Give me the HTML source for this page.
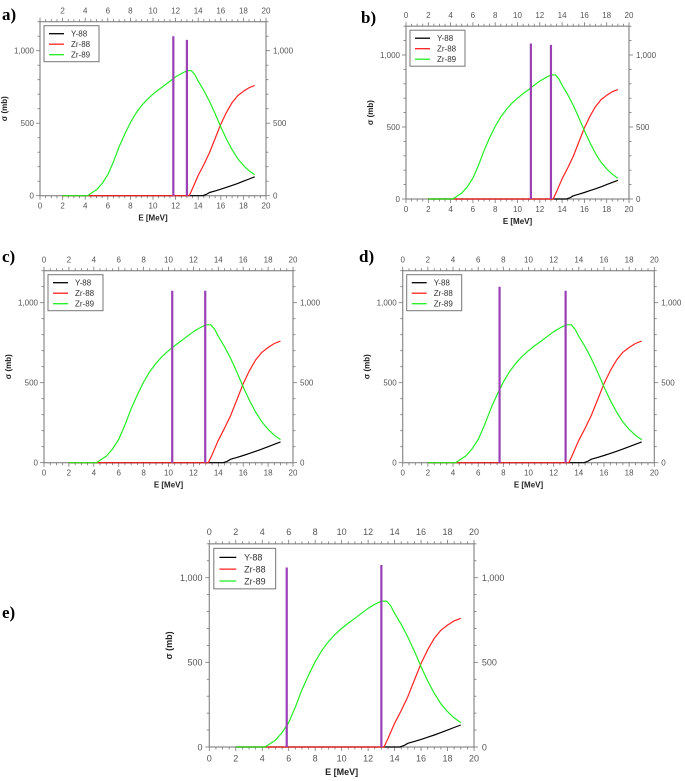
<!DOCTYPE html>
<html><head><meta charset="utf-8">
<style>
body{margin:0;background:#fff;}
svg{display:block;font-family:"Liberation Sans","DejaVu Sans",sans-serif;}
</style></head>
<body>
<svg id="fig" width="685" height="781" viewBox="0 0 685 781" xmlns="http://www.w3.org/2000/svg"></svg>
<script>
// ---- data ----
const zr89E = [2, 4.2, 4.5, 5, 5.5, 6, 6.5, 7, 7.5, 8, 8.5, 9, 9.5, 10, 10.5, 11, 11.5, 12, 12.5, 13, 13.4, 13.7, 14, 14.5, 15, 15.5, 16, 16.5, 17, 17.5, 18, 18.5, 19];
const zr89S = [0, 0, 15, 41, 85, 145, 235, 337, 425, 504, 570, 622, 665, 700, 732, 760, 790, 819, 842, 862, 862, 835, 790, 725, 650, 565, 474, 390, 317, 255, 209, 172, 144];
const zr88E = [2, 13.2, 13.5, 14, 14.5, 15, 15.5, 16, 16.5, 17, 17.5, 18, 18.5, 19];
const zr88S = [0, 0, 50, 140, 215, 297, 395, 494, 575, 642, 690, 720, 745, 760];
const y88E = [2, 14.4, 14.7, 15, 15.5, 16, 16.5, 17, 17.5, 18, 18.5, 19];
const y88S = [0, 0, 8, 22, 33, 45, 58, 71, 85, 100, 115, 130];
const xTickLabels = [0, 2, 4, 6, 8, 10, 12, 14, 16, 18, 20];
const yTickLabels = [0, 500, 1000];
const panelNames = ["a)", "b)", "c)", "d)", "e)"];
const markerE = [[11.8, 13.0], [11.2, 13.0], [10.3, 12.95], [7.7, 12.95], [5.85, 13.0]];
const markerTop = [[1100, 1075], [1080, 1070], [1075, 1075], [1100, 1075], [1060, 1075]];

// ---- layout (pixels) ----
const geoms = [
  {x0:40, x1:266, y0:195.7, y1000:50.7, fs:8, lab:[2,20], topFirst:2},
  {x0:406, x1:629, y0:199, y1000:55, fs:8, lab:[361,23], topFirst:0},
  {x0:44, x1:293, y0:462.7, y1000:302.7, fs:8, lab:[2,262], topFirst:0},
  {x0:402.7, x1:654.3, y0:462.7, y1000:302.7, fs:8, lab:[359,262], topFirst:0},
  {x0:209.3, x1:474, y0:747, y1000:577.7, fs:9, lab:[2,618], topFirst:0}
];
const NS = "http://www.w3.org/2000/svg";
const svg = document.getElementById("fig");
function mk(tag, attrs, parent){
  const e = document.createElementNS(NS, tag);
  for (const k in attrs) e.setAttribute(k, attrs[k]);
  (parent||svg).appendChild(e);
  return e;
}
function fmt(v){ return v >= 1000 ? v.toString().replace(/\B(?=(\d{3})+(?!\d))/g, ",") : String(v); }

geoms.forEach((g, i) => {
  const grp = mk("g", {});
  
  
  const sx = (g.x1 - g.x0) / 20;
  const sy = (g.y0 - g.y1000) / 1000;
  const X = e => g.x0 + e * sx;
  const Y = s => g.y0 - s * sy;
  const top = Y(1200);
  const fs = g.fs;
  const k = fs / 8;
  const fr = mk("rect", {x:g.x0, y:top, width:g.x1-g.x0, height:g.y0-top, fill:"none", stroke:"#8a8a8a", "stroke-width":1.2}, grp);
  
  
  for (let t = 0; t <= 20; t += 0.5) {
    const major = (t % 2 === 0);
    const len = major ? 4 : 2.5;
    mk("line", {x1:X(t), x2:X(t), y1:g.y0, y2:g.y0+len, stroke:"#777", "stroke-width":0.8}, grp);
    mk("line", {x1:X(t), x2:X(t), y1:top, y2:top-len, stroke:"#777", "stroke-width":0.8}, grp);
  }
  xTickLabels.forEach(v => {
    const b = mk("text", {x:X(v), y:g.y0+13*k, "font-size":fs, fill:"#555", "text-anchor":"middle"}, grp);
    b.textContent = v;
    
    
    if (v >= g.topFirst) {
      const tt = mk("text", {x:X(v), y:top-8*k, "font-size":fs, fill:"#555", "text-anchor":"middle"}, grp);
      tt.textContent = v;
      
      
    }
  });
  for (let s = 0; s <= 1200; s += 100) {
    const major = (s % 500 === 0);
    const len = major ? 4 : 2.5;
    mk("line", {x1:g.x0, x2:g.x0-len, y1:Y(s), y2:Y(s), stroke:"#777", "stroke-width":0.8}, grp);
    mk("line", {x1:g.x1, x2:g.x1+len, y1:Y(s), y2:Y(s), stroke:"#777", "stroke-width":0.8}, grp);
  }
  yTickLabels.forEach(v => {
    const l = mk("text", {x:g.x0-6*k, y:Y(v)+3*k, "font-size":fs, fill:"#555", "text-anchor":"end"}, grp);
    l.textContent = fmt(v);
    
    
    const r = mk("text", {x:g.x1+7*k, y:Y(v)+3*k, "font-size":fs, fill:"#555"}, grp);
    r.textContent = fmt(v);
    
    
  });
  const xt = mk("text", {x:(g.x0+g.x1)/2, y:g.y0+25*k, "font-size":fs, "font-weight":"bold", fill:"#222", "text-anchor":"middle"}, grp);
  xt.textContent = "E [MeV]";
  
  
  const yx = g.x0 - 33*k, yy = (g.y0+top)/2;
  const yt = mk("text", {x:yx, y:yy, "font-size":fs, "font-weight":"bold", fill:"#222", "text-anchor":"middle", transform:`rotate(-90 ${yx} ${yy})`}, grp);
  yt.textContent = "σ (mb)";
  
  
  const series = [[y88E, y88S, "#000", "y88-line"], [zr88E, zr88S, "#ff2020", "zr88-line"], [zr89E, zr89S, "#22ee22", "zr89-line"]];
  series.forEach(([es, ss, col, nm]) => {
    const pts = es.map((e, j) => X(e).toFixed(1) + "," + Y(ss[j]).toFixed(1)).join(" ");
    const pl = mk("polyline", {points:pts, fill:"none", stroke:col, "stroke-width":1.2, "stroke-linejoin":"round"}, grp);
    
    
  });
  markerE[i].forEach((e, j) => {
    const ml = mk("line", {x1:X(e), x2:X(e), y1:g.y0, y2:Y(markerTop[i][j]), stroke:"#9b3fb5", "stroke-width":2.2}, grp);
    
    
  });
  const lx = g.x0 + 4*k, ly = top + 4*k, lw = 55*k, lh = 36*k;
  const lg = mk("g", {}, grp);
  
  
  mk("rect", {x:lx, y:ly, width:lw, height:lh, fill:"#fff", stroke:"#777", "stroke-width":1}, lg);
  [["Y-88","#000"],["Zr-88","#ff2020"],["Zr-89","#22ee22"]].forEach(([t,c], j) => {
    const cy = ly + 8*k + j*10.5*k;
    const ln = mk("line", {x1:lx+5*k, x2:lx+20*k, y1:cy, y2:cy, stroke:c, "stroke-width":1.3}, lg);
    
    
    const tx = mk("text", {x:lx+27*k, y:cy+3*k, "font-size":fs, fill:"#333"}, lg);
    tx.textContent = t;
    
    
  });
  const pl = mk("text", {x:g.lab[0], y:g.lab[1], "font-size":17, "font-weight":"bold", fill:"#000", "font-family":"Liberation Serif, serif"}, grp);
  pl.textContent = panelNames[i];
  
  
});
</script>
</body></html>
